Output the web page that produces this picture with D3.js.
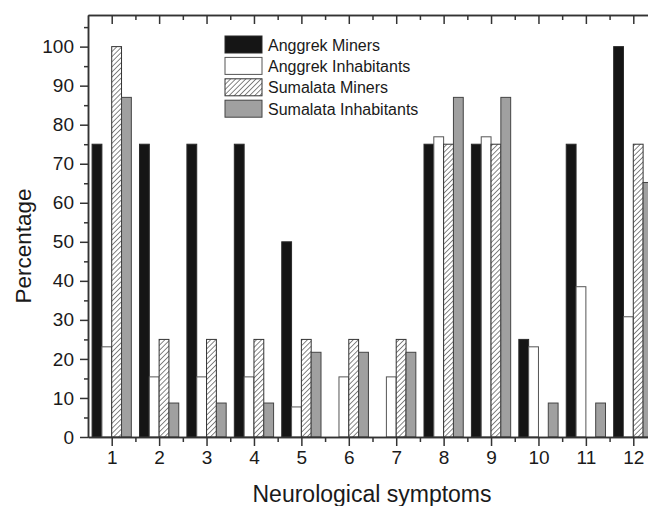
<!DOCTYPE html>
<html>
<head>
<meta charset="utf-8">
<script src="https://cdn.jsdelivr.net/npm/d3@7"></script>
<style>
  html, body { margin: 0; padding: 0; background: #fff; }
  svg { display: block; font-family: "Liberation Sans", Arial, sans-serif; }
</style>
</head>
<body>
<svg id="chart" width="648" height="506"></svg>
<script>
// ---- data ----
const categories = [1, 2, 3, 4, 5, 6, 7, 8, 9, 10, 11, 12];
const seriesNames = ["Anggrek Miners", "Anggrek Inhabitants", "Sumalata Miners", "Sumalata Inhabitants"];
const anggrekMiners       = [75, 75, 75, 75, 50, 0, 0, 75, 75, 25, 75, 100];
const anggrekInhabitants  = [23.1, 15.4, 15.4, 15.4, 7.7, 15.4, 15.4, 76.9, 76.9, 23.1, 38.5, 30.8];
const sumalataMiners      = [100, 25, 25, 25, 25, 25, 25, 75, 75, 0, 0, 75];
const sumalataInhabitants = [87.0, 8.7, 8.7, 8.7, 21.7, 21.7, 21.7, 87.0, 87.0, 8.7, 8.7, 65.2];
const yTicks = [0, 10, 20, 30, 40, 50, 60, 70, 80, 90, 100];
const yMinorTicks = [5, 15, 25, 35, 45, 55, 65, 75, 85, 95, 105];
const xMinorTicks = [1.5, 2.5, 3.5, 4.5, 5.5, 6.5, 7.5, 8.5, 9.5, 10.5, 11.5];
const xTitle = "Neurological symptoms";
const yTitle = "Percentage";

const seriesValues = [anggrekMiners, anggrekInhabitants, sumalataMiners, sumalataInhabitants];

// ---- layout ----
const svg = d3.select("#chart");
const L = 88, R = 657, T = 15, B = 437;

const x = d3.scaleLinear().domain([0.5, 12.5]).range([L, R]);
const y = d3.scaleLinear().domain([0, 108.1]).range([B, T]);
const barW = 0.207; // in category units
const sub = d3.scaleBand().domain(d3.range(4)).range([-2 * barW, 2 * barW]).padding(0);

const defs = svg.append("defs");
const pat = defs.append("pattern")
  .attr("id", "hatch").attr("patternUnits", "userSpaceOnUse")
  .attr("width", 3.6).attr("height", 3.6)
  .attr("patternTransform", "rotate(45)");
pat.append("rect").attr("width", 3.6).attr("height", 3.6).attr("fill", "#fff");
pat.append("line").attr("x1", 0).attr("y1", 0).attr("x2", 0).attr("y2", 3.6)
  .attr("stroke", "#222").attr("stroke-width", 1.1);

const fills = ["#151515", "#ffffff", "url(#hatch)", "#a0a0a0"];
const strokes = ["#2a2a2a", "#555", "#333", "#444"];

// ---- bars ----
const barData = [];
seriesValues.forEach((vals, si) => {
  vals.forEach((v, ci) => {
    if (v > 0) barData.push({ si, c: categories[ci], v });
  });
});
svg.append("g").selectAll("rect").data(barData).join("rect")
  .attr("x", d => x(d.c + sub(d.si)))
  .attr("width", d => x(d.c + sub(d.si) + sub.bandwidth()) - x(d.c + sub(d.si)))
  .attr("y", d => y(d.v))
  .attr("height", d => y(0) - y(d.v))
  .attr("fill", d => fills[d.si])
  .attr("stroke", d => strokes[d.si])
  .attr("stroke-width", 1);

// ---- axes ----
const axisColor = "#333";
function styleAxis(g) {
  g.select(".domain").attr("stroke", axisColor).attr("stroke-width", 1.5);
  g.selectAll(".tick line").attr("stroke", axisColor).attr("stroke-width", 1.5);
  g.selectAll(".tick text").attr("fill", "#1a1a1a").style("font-size", "19px")
    .style("font-family", "'Liberation Sans', Arial, sans-serif");
}

// bottom
svg.append("g").attr("transform", `translate(0,${B})`)
  .call(d3.axisBottom(x).tickValues(categories).tickSize(9).tickPadding(5).tickSizeOuter(0).tickFormat(d3.format("d")))
  .call(styleAxis);
svg.append("g").attr("transform", `translate(0,${B})`)
  .call(d3.axisBottom(x).tickValues(xMinorTicks).tickSize(5).tickSizeOuter(0).tickFormat(""))
  .call(styleAxis);
// top
svg.append("g").attr("transform", `translate(0,${T})`)
  .call(d3.axisTop(x).tickValues(categories).tickSize(-9).tickSizeOuter(0).tickFormat(""))
  .call(styleAxis);
svg.append("g").attr("transform", `translate(0,${T})`)
  .call(d3.axisTop(x).tickValues(xMinorTicks).tickSize(-5).tickSizeOuter(0).tickFormat(""))
  .call(styleAxis);
// left
svg.append("g").attr("transform", `translate(${L},0)`)
  .call(d3.axisLeft(y).tickValues(yTicks).tickSize(8).tickPadding(6).tickSizeOuter(0).tickFormat(d3.format("d")))
  .call(styleAxis);
svg.append("g").attr("transform", `translate(${L},0)`)
  .call(d3.axisLeft(y).tickValues(yMinorTicks).tickSize(4).tickSizeOuter(0).tickFormat(""))
  .call(styleAxis);
// right
svg.append("g").attr("transform", `translate(${R},0)`)
  .call(d3.axisRight(y).tickValues(yTicks).tickSize(-9).tickSizeOuter(0).tickFormat(""))
  .call(styleAxis);
svg.append("g").attr("transform", `translate(${R},0)`)
  .call(d3.axisRight(y).tickValues(yMinorTicks).tickSize(-5).tickSizeOuter(0).tickFormat(""))
  .call(styleAxis);

// ---- titles ----
svg.append("text")
  .attr("x", (L + 650) / 2 + 3).attr("y", 502)
  .attr("text-anchor", "middle")
  .attr("fill", "#1a1a1a")
  .style("font-size", "23px")
  .text(xTitle);
svg.append("text")
  .attr("transform", `translate(31,${246}) rotate(-90)`)
  .attr("text-anchor", "middle")
  .attr("fill", "#1a1a1a")
  .style("font-size", "22.5px")
  .text(yTitle);

// ---- legend ----
const legend = svg.append("g").attr("transform", "translate(225,36)");
const rowH = 21.4;
const items = legend.selectAll("g").data(seriesNames).join("g")
  .attr("transform", (d, i) => `translate(0,${i * rowH})`);
items.append("rect")
  .attr("width", 37).attr("height", 17)
  .attr("fill", (d, i) => fills[i])
  .attr("stroke", (d, i) => strokes[i]).attr("stroke-width", 1);
items.append("text")
  .attr("x", 43).attr("y", 14.5)
  .attr("fill", "#1a1a1a")
  .style("font-size", "16px")
  .text(d => d);
</script>
</body>
</html>
